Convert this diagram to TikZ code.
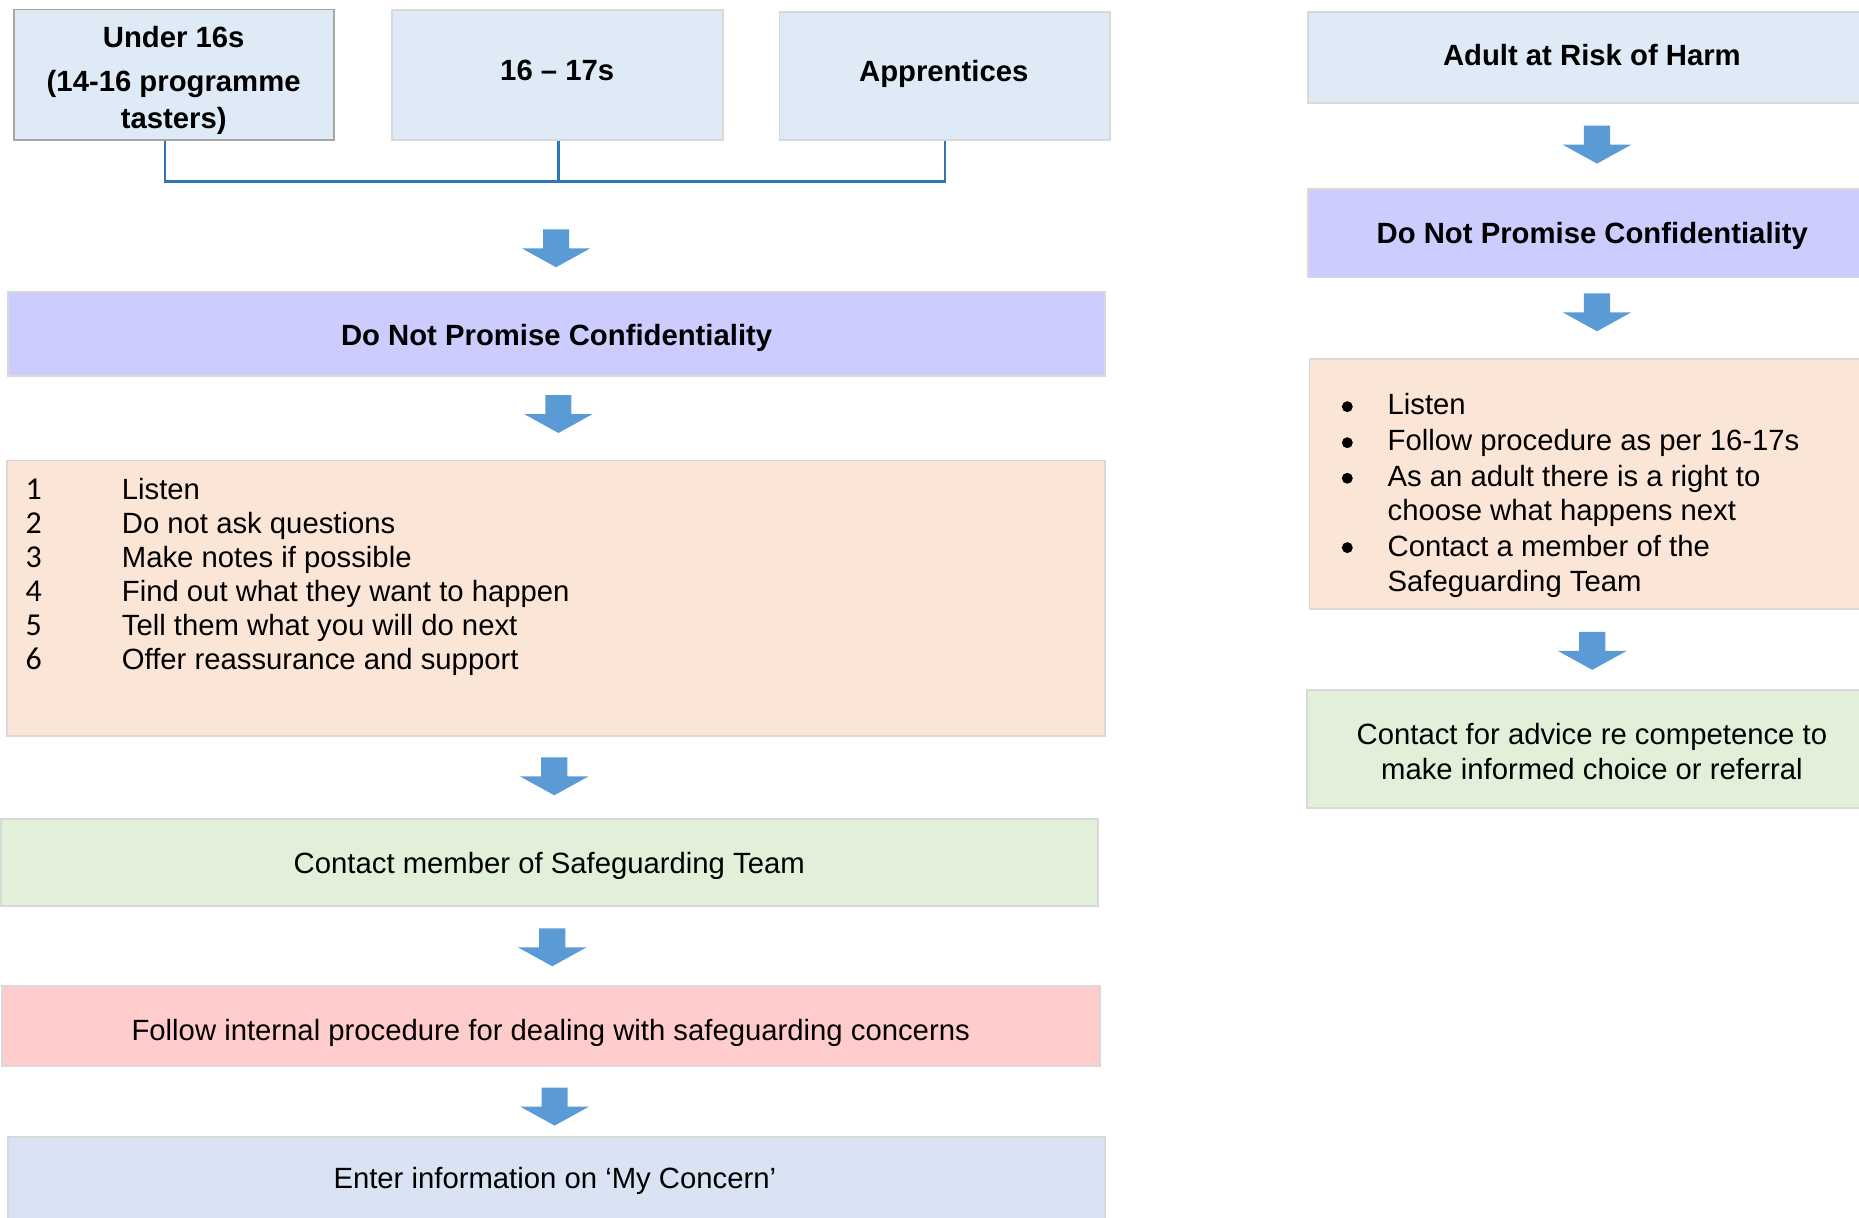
\documentclass[tikz,border=0pt]{standalone}
\usepackage{fontspec}
\setmainfont{Liberation Sans}
\newfontfamily\numfont{Carlito}
\usepackage{array}
\definecolor{blueL}{HTML}{DEEBF7}
\definecolor{blueE}{HTML}{DAE3F3}
\definecolor{peach}{HTML}{FBE5D6}
\definecolor{greenL}{HTML}{E2F0D9}
\definecolor{lilac}{HTML}{CCCCFF}
\definecolor{pinkL}{HTML}{FFCCCC}
\definecolor{arrowc}{HTML}{5B9BD5}
\definecolor{connc}{HTML}{2E75B6}
\definecolor{bord}{HTML}{D9D9D9}
\definecolor{bordD}{HTML}{A6A6A6}
\begin{document}
\begin{tikzpicture}[x=1pt,y=-1pt,
  box/.style={draw=bord, line width=1.5pt, inner sep=0pt, rectangle},
  tx/.style={font=\fontsize{24.7}{28.8}\selectfont, inner sep=0pt, anchor=base},
  hd/.style={font=\bfseries\fontsize{24.7}{28.8}\selectfont, inner sep=0pt, anchor=base},
  conn/.style={draw=connc, line width=2pt},
  bul/.style={fill=black},
  darrow/.pic={\fill[arrowc] (-11,0) -- (11,0) -- (11,16) -- (29,16) -- (0,32) -- (-29,16) -- (-11,16) -- cycle;}
]
\useasboundingbox (0,0) rectangle (1568,1027.3);

% ---- top row boxes
\node[box, draw=bordD, fill=blueL, minimum width=270pt, minimum height=110pt] (u16) at (147,63) {};
\node[box, fill=blueL, minimum width=279pt, minimum height=110pt] (a1617) at (470.2,63.2) {};
\node[box, fill=blueL, minimum width=279pt, minimum height=108pt] (app) at (797,64) {};

\node[hd] (u16t) at (146.5,39.9) {\begin{tabular}[t]{@{}c@{}}Under 16s\\[8.6pt](14-16 programme\\[2.1pt]tasters)\end{tabular}};
\node[hd] (a1617t) at (470,67.5) {16 -- 17s};
\node[hd] (appt) at (796,68.9) {Apprentices};

% ---- bracket connector
\coordinate (bar) at (0,153.2);
\draw[conn] ([xshift=-8pt]u16.south) |- (app.south |- bar) -- (app.south);
\draw[conn] ([xshift=1pt]a1617.south) -- ([xshift=1pt]a1617.south |- bar);

% ---- left column
\pic at (469,193.4) {darrow};
\node[box, fill=lilac, minimum width=925pt, minimum height=70.5pt] (dnpcL) at (469.5,281.8) {};
\node[hd] (dnpcLt) at (469.5,291.6) {Do Not Promise Confidentiality};

\pic at (471,333.2) {darrow};
\node[box, fill=peach, minimum width=926.5pt, minimum height=232pt] (listL) at (468.9,504.5) {};
\node[tx, anchor=base west] (listLt) at (21.5,421) {\begin{tabular}[t]{@{}>{\numfont\fontsize{26.9}{28.8}\selectfont}p{81.1pt}@{}l@{}}
1&Listen\\
2&Do not ask questions\\
3&Make notes if possible\\
4&Find out what they want to happen\\
5&Tell them what you will do next\\
6&Offer reassurance and support
\end{tabular}};

\pic at (467.5,638.8) {darrow};
\node[box, fill=greenL, minimum width=925.2pt, minimum height=73pt] (contact) at (463.4,727.4) {};
\node[tx] (contactt) at (463.3,736.6) {Contact member of Safeguarding Team};

\pic at (465.8,783) {darrow};
\node[box, fill=pinkL, minimum width=926.2pt, minimum height=67.7pt] (follow) at (464.9,865.2) {};
\node[tx] (followt) at (464.5,877.2) {Follow internal procedure for dealing with safeguarding concerns};

\pic at (467.8,917.4) {darrow};
\node[box, fill=blueE, minimum width=925.4pt, minimum height=76.3pt] (enter) at (469.3,996.85) {};
\node[tx] (entert) at (468,1002.3) {Enter information on `My Concern'};

% ---- right column
\node[box, fill=blueL, minimum width=476.5pt, minimum height=76.6pt] (adult) at (1341.75,48.7) {};
\node[hd] (adultt) at (1342.7,55.4) {Adult at Risk of Harm};

\pic at (1347,106) {darrow};
\node[box, fill=lilac, minimum width=476.5pt, minimum height=74.3pt] (dnpcR) at (1341.75,196.85) {};
\node[hd] (dnpcRt) at (1343,205.8) {Do Not Promise Confidentiality};

\pic at (1347,247.4) {darrow};
\node[box, fill=peach, minimum width=475.5pt, minimum height=210.6pt] (listR) at (1342.25,408.3) {};
\node[tx, anchor=base west] (listRt) at (1170.2,350) {\begin{tabular}[t]{@{}l@{}}
Listen\\[1.5pt]
Follow procedure as per 16-17s\\[1.5pt]
As an adult there is a right to\\
choose what happens next\\[1.5pt]
Contact a member of the\\
Safeguarding Team
\end{tabular}};
\fill[bul] (1136.4,343) circle (4.6);
\fill[bul] (1136.4,373.4) circle (4.6);
\fill[bul] (1136.4,403.4) circle (4.6);
\fill[bul] (1136.4,461.9) circle (4.6);

\pic at (1343,533) {darrow};
\node[box, fill=greenL, minimum width=477.7pt, minimum height=99.7pt] (advice) at (1341.15,631.85) {};
\node[tx] (advicet) at (1342.7,627.7) {\begin{tabular}[t]{@{}c@{}}Contact for advice re competence to\\[1.2pt]make informed choice or referral\end{tabular}};
\end{tikzpicture}
\end{document}
